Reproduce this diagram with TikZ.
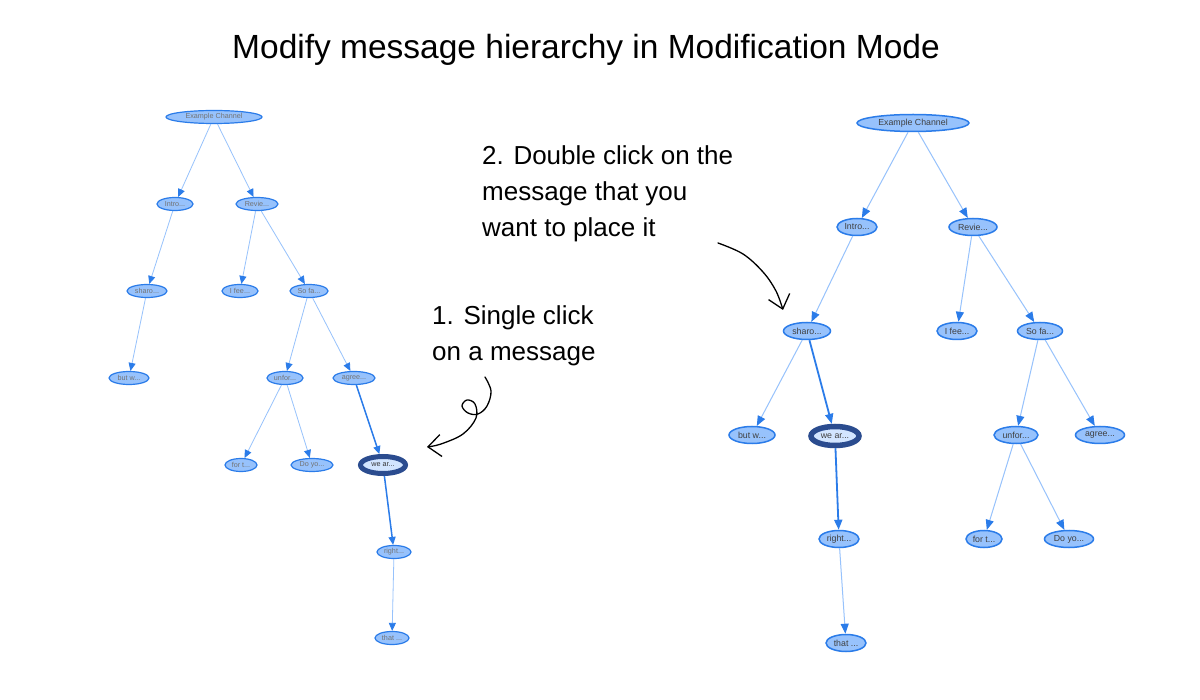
\documentclass[tikz,border=0pt]{standalone}
\usepackage{fontspec}
\setmainfont{Liberation Sans}
\usetikzlibrary{shapes.geometric,arrows.meta}
\definecolor{vfill}{HTML}{97C2FC}
\definecolor{vborder}{HTML}{2B7CE9}
\definecolor{vdark}{HTML}{2B4C8F}
\definecolor{vsel}{HTML}{D2E5FF}
\definecolor{vedge}{HTML}{97C2FC}
\tikzset{
 msg/.style={ellipse, draw=vborder, fill=vfill, line width=1.2pt, inner sep=0pt, minimum height=13pt},
 msgL/.style={msg, font=\fontsize{7.2}{8}\selectfont, text=black!55},
 msgR/.style={msg, minimum height=17pt, line width=1.5pt, font=\fontsize{8.8}{10}\selectfont, text=black!75},
 selL/.style={msgL, draw=vdark, fill=vsel, line width=5pt, minimum height=17pt, text=black!80},
 selR/.style={msgR, draw=vdark, fill=vsel, line width=5.5pt, minimum height=19pt},
 edgeL/.style={draw=vedge, line width=0.8pt, -{Triangle[length=8pt,width=7pt,color=vborder]}},
 tedgeL/.style={edgeL, draw=vborder, line width=1.5pt},
 edgeR/.style={draw=vedge, line width=1pt, -{Triangle[length=10pt,width=8pt,color=vborder]}},
 tedgeR/.style={edgeR, draw=vborder, line width=1.8pt},
 hand/.style={font=\fontsize{26}{36}\selectfont, align=left, anchor=north west, inner sep=0pt},
 sketch/.style={line width=1.3pt, line cap=round, line join=round, -{Straight Barb[length=13pt,width=22pt,line width=1.3pt]}}
}
\begin{document}
\begin{tikzpicture}[x=1pt,y=-1pt]
\useasboundingbox (0,0) rectangle (1200,700);
\fill[white] (0,0) rectangle (1200,700);
% title
\node[font=\fontsize{33.5}{40}\selectfont, inner sep=0pt] (title) at (586,50) {Modify message hierarchy in Modification Mode};
% left tree
\node[msgL, minimum width=96pt] (lex) at (214,117) {Example Channel};
\node[msgL, minimum width=36pt] (lintro) at (175,204) {Intro...};
\node[msgL, minimum width=42pt] (lrevie) at (257,204) {Revie...};
\node[msgL, minimum width=40pt] (lsharo) at (147,291) {sharo...};
\node[msgL, minimum width=36pt] (lifee) at (240,291) {I fee...};
\node[msgL, minimum width=38pt] (lsofa) at (309,291) {So fa...};
\node[msgL, minimum width=40pt] (lbutw) at (129,378) {but w...};
\node[msgL, minimum width=36pt] (lunfor) at (285,378) {unfor...};
\node[msgL, minimum width=42pt] (lagree) at (354,378) {agree...};
\node[msgL, minimum width=32pt] (lfort) at (241,465) {for t...};
\node[msgL, minimum width=42pt] (ldoyo) at (312,465) {Do yo...};
\node[selL, minimum width=45pt] (lwear) at (383,465) {we ar...};
\node[msgL, minimum width=34pt] (lright) at (394,552) {right...};
\node[msgL, minimum width=34pt] (lthat) at (392,638) {that ...};
\draw[edgeL] (lex) -- (lintro);
\draw[edgeL] (lex) -- (lrevie);
\draw[edgeL] (lintro) -- (lsharo);
\draw[edgeL] (lrevie) -- (lifee);
\draw[edgeL] (lrevie) -- (lsofa);
\draw[edgeL] (lsharo) -- (lbutw);
\draw[edgeL] (lsofa) -- (lunfor);
\draw[edgeL] (lsofa) -- (lagree);
\draw[edgeL] (lunfor) -- (lfort);
\draw[edgeL] (lunfor) -- (ldoyo);
\draw[tedgeL] (lagree) -- (lwear);
\draw[tedgeL] (lwear) -- (lright);
\draw[edgeL] (lright) -- (lthat);
% right tree
\node[msgR, minimum width=112pt] (rex) at (913,123) {Example Channel};
\node[msgR, minimum width=40pt] (rintro) at (857,227) {Intro...};
\node[msgR, minimum width=48pt] (rrevie) at (973,227) {Revie...};
\node[msgR, minimum width=47pt] (rsharo) at (807,331) {sharo...};
\node[msgR, minimum width=40pt] (rifee) at (957,331) {I fee...};
\node[msgR, minimum width=45pt] (rsofa) at (1040,331) {So fa...};
\node[msgR, minimum width=46pt] (rbutw) at (752,435) {but w...};
\node[selR, minimum width=48pt] (rwear) at (835,436) {we ar...};
\node[msgR, minimum width=44pt] (runfor) at (1016,435) {unfor...};
\node[msgR, minimum width=49pt] (ragree) at (1100,435) {agree...};
\node[msgR, minimum width=40pt] (rright) at (839,539) {right...};
\node[msgR, minimum width=40pt] (rthat) at (846,643) {that ...};
\node[msgR, minimum width=36pt] (rfort) at (984,539) {for t...};
\node[msgR, minimum width=49pt] (rdoyo) at (1069,539) {Do yo...};
\draw[edgeR] (rex) -- (rintro);
\draw[edgeR] (rex) -- (rrevie);
\draw[edgeR] (rintro) -- (rsharo);
\draw[edgeR] (rrevie) -- (rifee);
\draw[edgeR] (rrevie) -- (rsofa);
\draw[edgeR] (rsharo) -- (rbutw);
\draw[tedgeR] (rsharo) -- (rwear);
\draw[tedgeR] (rwear) -- (rright);
\draw[edgeR] (rright) -- (rthat);
\draw[edgeR] (rsofa) -- (runfor);
\draw[edgeR] (rsofa) -- (ragree);
\draw[edgeR] (runfor) -- (rfort);
\draw[edgeR] (runfor) -- (rdoyo);
% annotations
\node[hand] (note1) at (432,305) {1. Single click\\on a message};
\node[hand] (note2) at (482,145) {2. Double click on the\\message that you\\want to place it};
\draw[sketch] plot[smooth, tension=0.6] coordinates {(485,377) (491,391) (487,406) (478,414) (468,413) (462,406) (467,400) (475,404) (476,418) (463,434) (441,444) (427,447)};
\draw[sketch] plot[smooth, tension=0.6] coordinates {(718,243) (743,254) (763,272) (776,291) (783,310)};
\end{tikzpicture}
\end{document}
